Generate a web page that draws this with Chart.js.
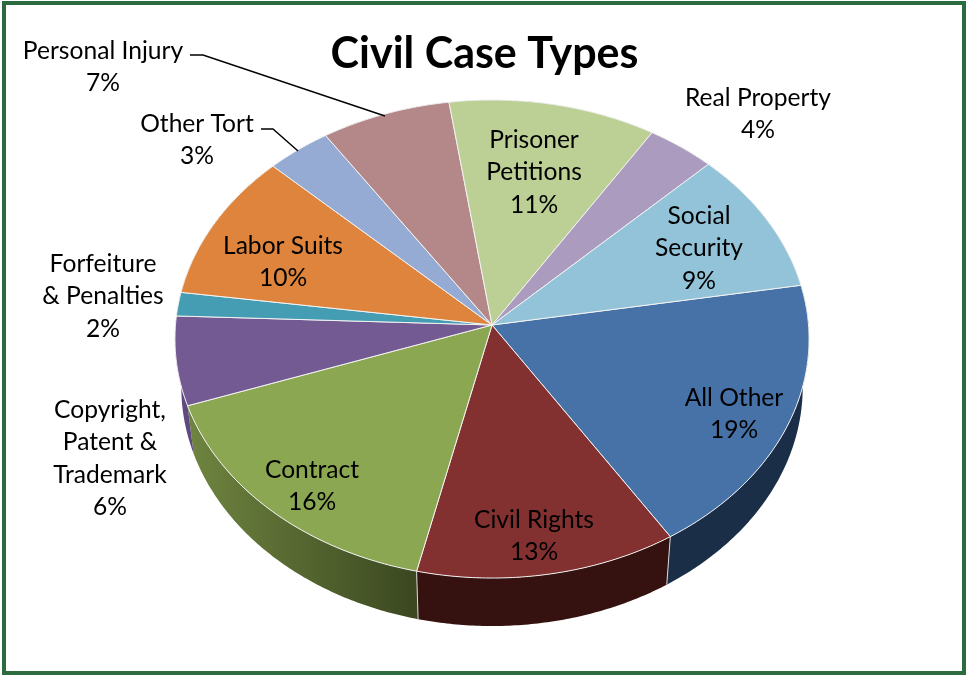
<!DOCTYPE html>
<html>
<head>
<meta charset="utf-8">
<title>Civil Case Types</title>
<script src="https://cdn.jsdelivr.net/npm/chart.js@4"></script>
<style>
    html, body { margin: 0; padding: 0; background: #fff; }
    #frame { position: absolute; left: 2px; top: 1px; width: 956px; height: 666px; border: 4px solid #2b6b3f; }
    #pie { position: absolute; left: 0; top: 0; }
</style>
</head>
<body>
<div id="frame"></div>
<canvas id="pie" width="966" height="675"></canvas>
<script>
const categories = ['All Other', 'Civil Rights', 'Contract', 'Copyright, Patent & Trademark', 'Forfeiture & Penalties', 'Labor Suits', 'Other Tort', 'Personal Injury', 'Prisoner Petitions', 'Real Property', 'Social Security'];
const sliceValues = [18.7, 12.6, 16, 6, 1.6, 10, 3.5, 7, 11.2, 3.7, 9.7];
const percentLabels = ['19%', '13%', '16%', '6%', '2%', '10%', '3%', '7%', '11%', '4%', '9%'];
const labelLines = [['All Other'], ['Civil Rights'], ['Contract'], ['Copyright,', 'Patent &', 'Trademark'], ['Forfeiture', '& Penalties'], ['Labor Suits'], ['Other Tort'], ['Personal Injury'], ['Prisoner', 'Petitions'], ['Real Property'], ['Social', 'Security']];

const sliceColors = ['#4672a8', '#833130', '#8ca752', '#745a92', '#449db3', '#de843c', '#95abd3', '#b48888', '#bcd096', '#ab9bbe', '#92c3d8'];
const sideColors = ['#1b2e47', '#35110f', null, '#5f4a80', '#2c6a78', '#8a5020', '#64749a', '#7a5a5a', '#7f8f60', '#74688a', '#5f8a9c'];
const labelSpots = [[734, 398], [534, 520], [312, 470], [110, 410], [103, 264], [283, 246], [197, 124], [103, 51], [534, 140], [758, 98], [699, 216]];
const leaders = [
    [[190, 55], [203, 55], [385, 116]],
    [[261, 129], [273, 129], [298, 151]]
];

// tilted face: apex is not the middle of the ellipse, so project the disk by hand
const apexX = 492, apexY = 325, faceA = 316.5, faceB = 238.2, tilt = -0.0586;
const depth = 48, rimShrink = 0.98, lineGap = 32.4;

function facePoint(angle) {
    const u = Math.cos(angle), v = Math.sin(angle), w = 1 + tilt * v;
    return [apexX + faceA * u / w, apexY + faceB * v / w];
}

function rimPoint(angle) {
    const p = facePoint(angle);
    return [apexX + rimShrink * (p[0] - apexX), p[1] + depth];
}

function arcSteps(arc) {
    const steps = [], n = Math.max(2, Math.ceil((arc.endAngle - arc.startAngle) / 0.01));
    for (let i = 0; i <= n; i++) steps.push(arc.startAngle + (arc.endAngle - arc.startAngle) * i / n);
    return steps;
}

const tiltedPie = {
    id: 'tiltedPie',
    beforeDatasetsDraw(chart) {
        const ctx = chart.ctx;
        const arcs = chart.getDatasetMeta(0).data;
        ctx.save();
        // sides first, the top face covers the back half
        arcs.forEach((arc, i) => {
            const steps = arcSteps(arc);
            ctx.beginPath();
            steps.forEach(a => ctx.lineTo(...facePoint(a)));
            steps.slice().reverse().forEach(a => ctx.lineTo(...rimPoint(a)));
            ctx.closePath();
            if (sideColors[i]) {
                ctx.fillStyle = sideColors[i];
            } else {
                const grad = ctx.createLinearGradient(190, 0, 415, 0);
                grad.addColorStop(0, '#6f8440');
                grad.addColorStop(1, '#3b4820');
                ctx.fillStyle = grad;
            }
            ctx.fill();
        });
        ctx.strokeStyle = '#d8d8d8';
        ctx.lineWidth = 1;
        [arcs[0].endAngle, arcs[1].endAngle].forEach(a => {
            ctx.beginPath();
            ctx.moveTo(...facePoint(a));
            ctx.lineTo(...rimPoint(a));
            ctx.stroke();
        });
        arcs.forEach((arc, i) => {
            ctx.beginPath();
            ctx.moveTo(apexX, apexY);
            arcSteps(arc).forEach(a => ctx.lineTo(...facePoint(a)));
            ctx.closePath();
            ctx.fillStyle = sliceColors[i];
            ctx.fill();
            ctx.strokeStyle = '#f2f2f2';
            ctx.lineWidth = 1;
            ctx.stroke();
        });
        ctx.restore();
        return false;
    },
    afterDraw(chart) {
        const ctx = chart.ctx;
        ctx.save();
        ctx.strokeStyle = '#000';
        ctx.lineWidth = 1.4;
        leaders.forEach(line => {
            ctx.beginPath();
            line.forEach(p => ctx.lineTo(p[0], p[1]));
            ctx.stroke();
        });
        ctx.fillStyle = '#000';
        ctx.font = '24.6px Lato';
        ctx.textAlign = 'center';
        ctx.textBaseline = 'middle';
        labelLines.forEach((lines, i) => {
            const spot = labelSpots[i];
            lines.concat(percentLabels[i]).forEach((text, n) => {
                ctx.fillText(text, spot[0], spot[1] + n * lineGap);
            });
        });
        ctx.restore();
    }
};

new Chart(document.getElementById('pie'), {
    type: 'pie',
    data: {
        labels: categories,
        datasets: [{
            data: sliceValues,
            backgroundColor: sliceColors
        }]
    },
    plugins: [tiltedPie],
    options: {
        responsive: false,
        animation: false,
        rotation: 80.3,
        layout: { padding: { left: 3 } },
        plugins: {
            legend: { display: false },
            tooltip: { enabled: false },
            title: {
                display: true,
                text: 'Civil Case Types',
                color: '#000',
                font: { family: 'Lato', size: 43, weight: 'bold' },
                padding: { top: 28, bottom: 4 }
            }
        }
    }
});
</script>
</body>
</html>
